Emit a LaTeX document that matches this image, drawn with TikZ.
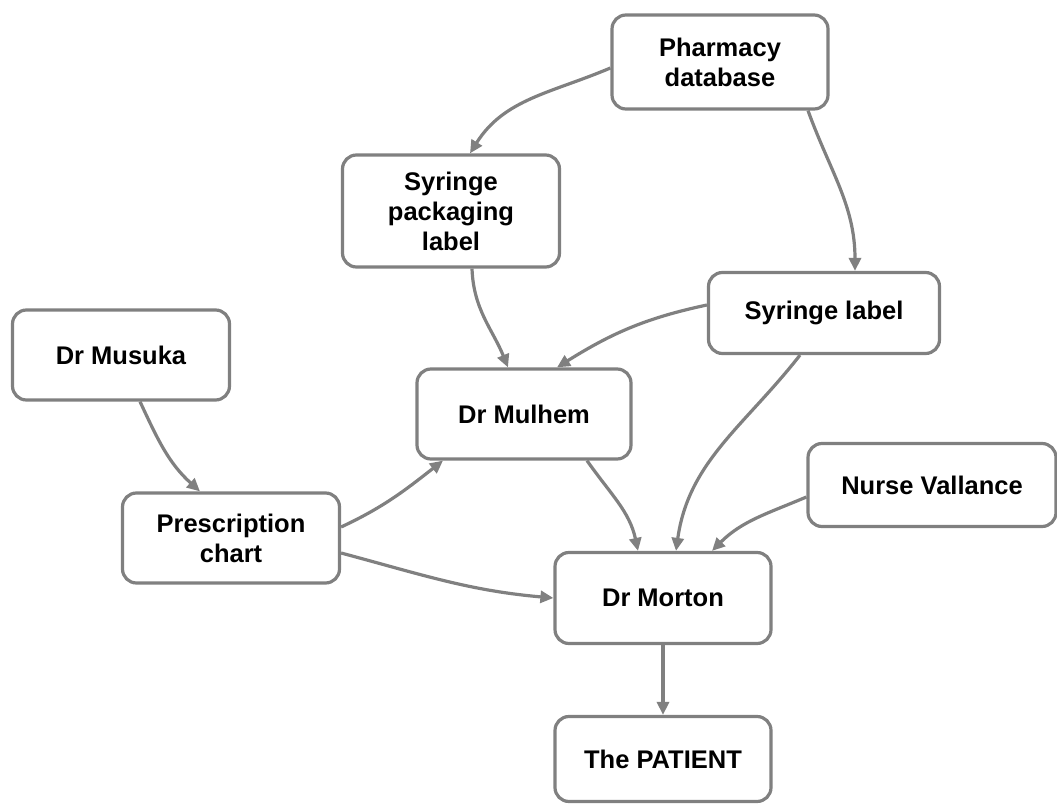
\documentclass[tikz,border=0pt]{standalone}
\usepackage{fontspec}
\setmainfont{Liberation Sans}
\usetikzlibrary{arrows.meta}
\definecolor{edgegray}{RGB}{128,128,128}
\begin{document}
\begin{tikzpicture}[x=1pt,y=1pt,
  box/.style={draw=edgegray, line width=3.2pt, rounded corners=14pt, fill=white,
    align=center, inner sep=0pt, font=\fontsize{25.5}{30}\selectfont\bfseries},
  link/.style={draw=edgegray, line width=3.2pt, -{Triangle[length=13pt,width=12pt]}}
]
\useasboundingbox (0,0) rectangle (1057,804);

% people and documents
\node[box, minimum width=216pt, minimum height=94pt]  (pd)  at (720,742) {Pharmacy\\database};
\node[box, minimum width=217pt, minimum height=112pt] (sp)  at (451,593) {Syringe\\packaging\\label};
\node[box, minimum width=231pt, minimum height=81pt]  (sl)  at (824,491) {Syringe label};
\node[box, minimum width=217pt, minimum height=90pt]  (mus) at (121,449) {Dr Musuka};
\node[box, minimum width=214pt, minimum height=90pt]  (mul) at (524,390) {Dr Mulhem};
\node[box, minimum width=248pt, minimum height=83pt]  (nv)  at (932,319) {Nurse Vallance};
\node[box, minimum width=217pt, minimum height=90pt]  (pc)  at (231,266) {Prescription\\chart};
\node[box, minimum width=216pt, minimum height=91pt]  (mor) at (663,206) {Dr Morton};
\node[box, minimum width=216pt, minimum height=85pt]  (pat) at (663,45)  {The PATIENT};

% flow of information
\draw[link] ([yshift=-6pt]pd.west) to[out=203, in=58] ([xshift=19pt]sp.north);
\draw[link] ([xshift=88pt]pd.south) to[out=-70, in=90] ([xshift=31pt]sl.north);
\draw[link] ([xshift=21pt]sp.south) to[out=-88, in=112] ([xshift=-16pt]mul.north);
\draw[link] ([yshift=8pt]sl.west) to[out=192, in=32] ([xshift=33pt]mul.north);
\draw[link] ([xshift=-24pt]sl.south) to[out=232, in=82] ([xshift=13pt]mor.north);
\draw[link] ([xshift=63pt]mul.south) to[out=-55, in=102] ([xshift=-25pt]mor.north);
\draw[link] ([yshift=-12pt]nv.west) to[out=203, in=45] ([xshift=49pt]mor.north);
\draw[link] ([xshift=19pt]mus.south) to[out=-65, in=138] ([xshift=-31pt]pc.north);
\draw[link] ([yshift=11pt]pc.east) to[out=25, in=218] ([xshift=-81pt]mul.south);
\draw[link] ([yshift=-15pt]pc.east) to[out=-15, in=175] (mor.west);
\draw[link] (mor.south) -- (pat.north);
\end{tikzpicture}
\end{document}
